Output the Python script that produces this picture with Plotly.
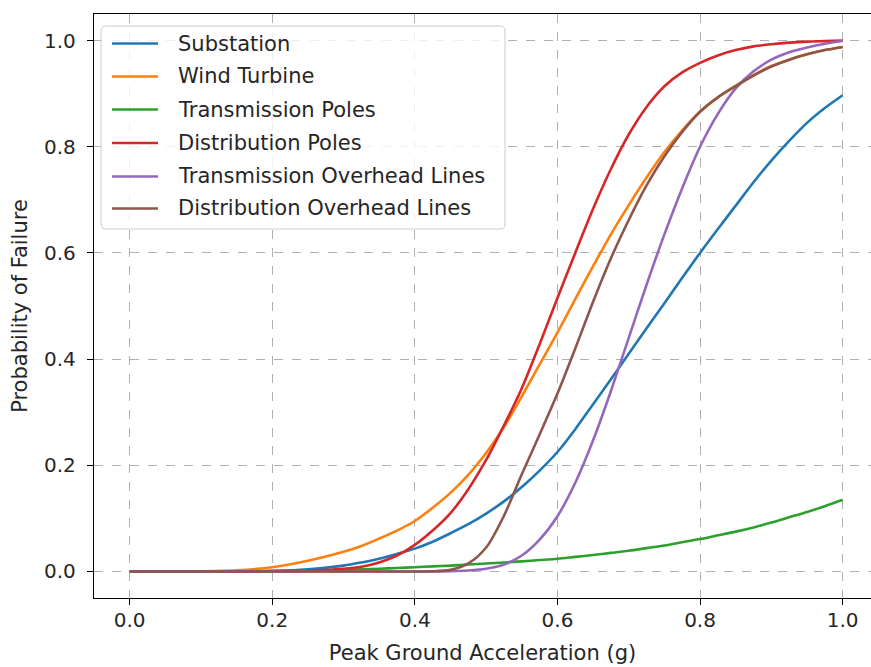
import plotly.graph_objects as go

# ---------------- data ----------------
pga = [0.00, 0.05, 0.10, 0.15, 0.20, 0.25,
       0.300, 0.325, 0.350, 0.375, 0.400, 0.425, 0.450, 0.475, 0.500, 0.525,
       0.550, 0.575, 0.600, 0.625, 0.650, 0.675, 0.700, 0.725, 0.750, 0.775,
       0.800, 0.825, 0.850, 0.875, 0.900, 0.925, 0.950, 0.975, 1.000]

substation = [0.0, 0.0, 0.0, 0.0003, 0.001, 0.004,
              0.011, 0.017, 0.024, 0.033, 0.043, 0.056, 0.072, 0.089, 0.109, 0.132,
              0.159, 0.19, 0.225, 0.268, 0.315, 0.362, 0.41, 0.458, 0.505, 0.553,
              0.60, 0.645, 0.689, 0.733, 0.774, 0.811, 0.845, 0.873, 0.897]
wind_turbine = [0.0, 0.0, 0.0003, 0.002, 0.008, 0.02,
                0.037, 0.048, 0.062, 0.077, 0.095, 0.12, 0.148, 0.182, 0.223, 0.272,
                0.33, 0.39, 0.45, 0.513, 0.575, 0.635, 0.69, 0.742, 0.79, 0.831,
                0.866, 0.893, 0.915, 0.935, 0.952, 0.964, 0.974, 0.982, 0.988]
transmission_poles = [0.0, 0.0, 0.0, 0.0002, 0.0006, 0.0015,
                      0.003, 0.004, 0.005, 0.0065, 0.008, 0.0095, 0.011, 0.013, 0.015, 0.017,
                      0.019, 0.0215, 0.024, 0.0275, 0.031, 0.035, 0.039, 0.044, 0.049, 0.055,
                      0.061, 0.068, 0.075, 0.083, 0.092, 0.102, 0.112, 0.123, 0.135]
distribution_poles = [0.0, 0.0, 0.0, 0.0, 0.0003, 0.0012,
                      0.005, 0.009, 0.017, 0.03, 0.05, 0.077, 0.11, 0.155, 0.21, 0.275,
                      0.345, 0.428, 0.515, 0.6, 0.683, 0.758, 0.823, 0.875, 0.914, 0.94,
                      0.958, 0.972, 0.982, 0.989, 0.993, 0.996, 0.998, 0.999, 1.0]
transmission_lines = [0.0, 0.0, 0.0, 0.0, 0.0, 0.0,
                      0.0, 0.0, 0.0, 0.0, 0.0, 0.0001, 0.0005, 0.0018, 0.005, 0.013,
                      0.03, 0.06, 0.104, 0.167, 0.247, 0.34, 0.44, 0.54, 0.635, 0.722,
                      0.80, 0.862, 0.91, 0.942, 0.964, 0.978, 0.987, 0.994, 0.999]
distribution_lines = [0.0, 0.0, 0.0, 0.0, 0.0, 0.0,
                      0.0, 0.0, 0.0, 0.0, 0.0, 0.0003, 0.003, 0.015, 0.045, 0.105,
                      0.183, 0.258, 0.335, 0.42, 0.508, 0.59, 0.662, 0.727, 0.782, 0.828,
                      0.866, 0.893, 0.914, 0.934, 0.951, 0.964, 0.974, 0.982, 0.988]

series_names = ["Substation", "Wind Turbine", "Transmission Poles", "Distribution Poles",
                "Transmission Overhead Lines", "Distribution Overhead Lines"]
series_values = [substation, wind_turbine, transmission_poles, distribution_poles,
                 transmission_lines, distribution_lines]
colors = ["#1f77b4", "#ff7f0e", "#2ca02c", "#d62728", "#9467bd", "#8c564b"]

x_ticks = [0.0, 0.2, 0.4, 0.6, 0.8, 1.0]
y_ticks = [0.0, 0.2, 0.4, 0.6, 0.8, 1.0]

# ---------------- layout geometry ----------------
W, H = 871, 667
ML, MR, MT, MB = 94, 0, 14, 69
PW = W - ML - MR
PH = H - MT - MB
FONT = "DejaVu Sans"
TXT = "#262626"


def px(xp):
    return (xp - ML) / PW


def py(yp):
    return (H - MB - yp) / PH


fig = go.Figure()
for name, vals, col in zip(series_names, series_values, colors):
    fig.add_trace(go.Scatter(
        x=pga, y=vals, mode="lines", name=name,
        line=dict(color=col, width=2.6, shape="spline", smoothing=0.8),
        showlegend=False,
    ))

# ---------------- manual matplotlib-like legend ----------------
x0, x1, y0, y1, r = 101, 505, 26, 229, 5
path = (
    f"M {px(x0 + r)} {py(y0)} L {px(x1 - r)} {py(y0)} "
    f"Q {px(x1)} {py(y0)} {px(x1)} {py(y0 + r)} "
    f"L {px(x1)} {py(y1 - r)} Q {px(x1)} {py(y1)} {px(x1 - r)} {py(y1)} "
    f"L {px(x0 + r)} {py(y1)} Q {px(x0)} {py(y1)} {px(x0)} {py(y1 - r)} "
    f"L {px(x0)} {py(y0 + r)} Q {px(x0)} {py(y0)} {px(x0 + r)} {py(y0)} Z"
)
shapes = [dict(type="path", path=path, xref="paper", yref="paper",
               fillcolor="rgba(255,255,255,0.8)", line=dict(color="#cccccc", width=1),
               layer="above")]
annotations = []
rows = [43.5, 76.5, 109.5, 143, 176.5, 208.5]
for name, col, ry in zip(series_names, colors, rows):
    shapes.append(dict(type="line", xref="paper", yref="paper",
                       x0=px(112), x1=px(158), y0=py(ry), y1=py(ry),
                       line=dict(color=col, width=2.6), layer="above"))
    annotations.append(dict(text=name, xref="paper", yref="paper",
                            x=px(176), y=py(ry), xanchor="left", yanchor="middle",
                            showarrow=False, font=dict(family=FONT, size=21, color=TXT)))

fig.update_layout(
    width=W, height=H,
    margin=dict(l=ML, r=MR, t=MT, b=MB, autoexpand=False),
    paper_bgcolor="white", plot_bgcolor="white",
    shapes=shapes, annotations=annotations,
    font=dict(family=FONT, size=20, color=TXT),
    xaxis=dict(
        range=[-0.05, -0.05 + PW / 713.0], tickvals=x_ticks,
        ticktext=[f"{v:.1f}" for v in x_ticks],
        showline=True, linecolor="black", linewidth=1.3, mirror=True,
        ticks="outside", ticklen=6, tickwidth=1.2, tickcolor="black",
        ticklabelstandoff=-2,
        showgrid=True, gridcolor="#b0b0b0", griddash="dash", gridwidth=1,
        zeroline=False, automargin=False,
        tickfont=dict(family=FONT, size=20, color=TXT),
        title=dict(text="Peak Ground Acceleration (g)", standoff=14,
                   font=dict(family=FONT, size=21, color=TXT)),
    ),
    yaxis=dict(
        range=[-0.05, 1.05], tickvals=y_ticks,
        ticktext=[f"{v:.1f}" for v in y_ticks],
        showline=True, linecolor="black", linewidth=1.3, mirror=False,
        ticks="outside", ticklen=6, tickwidth=1.2, tickcolor="black",
        ticklabelstandoff=7,
        showgrid=True, gridcolor="#b0b0b0", griddash="dash", gridwidth=1,
        zeroline=False, automargin=False,
        tickfont=dict(family=FONT, size=20, color=TXT),
        title=dict(text="Probability of Failure", standoff=10,
                   font=dict(family=FONT, size=21, color=TXT)),
    ),
)

fig.write_html(
    "out.html",
    config={"displayModeBar": False},
    post_script="document.body.style.margin='0';document.body.style.overflow='hidden';",
)
